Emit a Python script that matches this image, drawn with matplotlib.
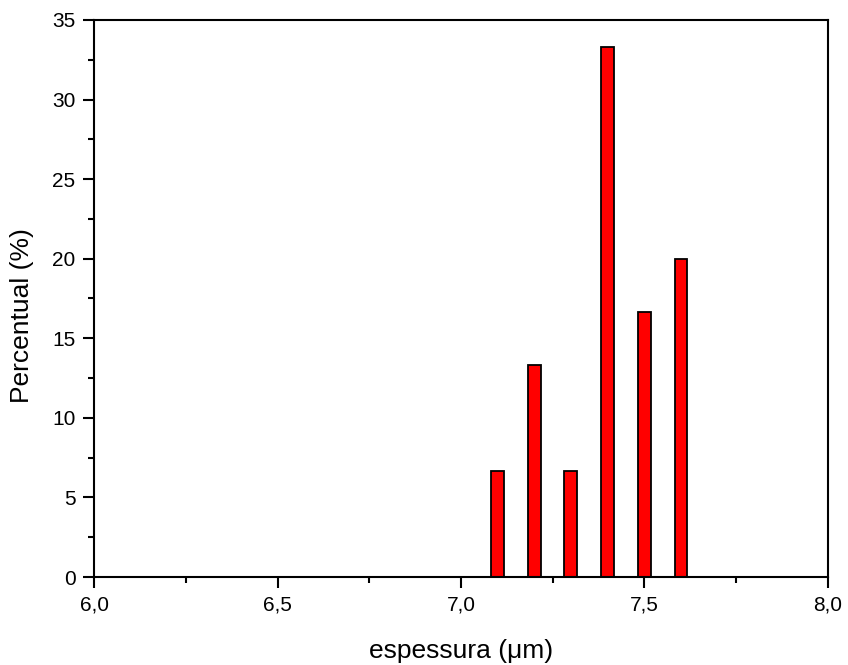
import matplotlib
matplotlib.use("Agg")
import matplotlib.pyplot as plt
from matplotlib.ticker import MultipleLocator, FuncFormatter

plt.rcParams['font.family'] = ['Liberation Sans', 'DejaVu Sans']

espessura = [7.1, 7.2, 7.3, 7.4, 7.5, 7.6]
percentual = [6.67, 13.33, 6.67, 33.33, 16.67, 20.0]

fig = plt.figure(figsize=(8.48, 6.65), dpi=100)
ax = fig.add_axes([0.111, 0.1323, 0.865, 0.8377])

ax.bar(espessura, percentual, width=0.035, color='red', edgecolor='black', linewidth=1.3)

ax.set_xlim(6.0, 8.0)
ax.set_ylim(0, 35)
ax.xaxis.set_major_locator(MultipleLocator(0.5))
ax.xaxis.set_minor_locator(MultipleLocator(0.25))
ax.yaxis.set_major_locator(MultipleLocator(5))
ax.yaxis.set_minor_locator(MultipleLocator(2.5))
ax.xaxis.set_major_formatter(FuncFormatter(lambda v, p: f"{v:.1f}".replace('.', ',')))
ax.yaxis.set_major_formatter(FuncFormatter(lambda v, p: f"{v:.0f}"))

ax.tick_params(which='both', direction='out', top=False, right=False, width=1.5, labelsize=15)
ax.tick_params(which='major', length=8)
ax.tick_params(axis='y', which='major', pad=5.5)
ax.tick_params(axis='x', which='major', pad=5.5)
ax.tick_params(which='minor', length=4)
for s in ax.spines.values():
    s.set_linewidth(1.5)

ax.set_xlabel('espessura (μm)', fontsize=19)
ax.set_ylabel('Percentual (%)', fontsize=19)
ax.xaxis.set_label_coords(0.5, -0.112)
ax.yaxis.set_label_coords(-0.082, 0.47)

fig.savefig('out.png', dpi=100)
